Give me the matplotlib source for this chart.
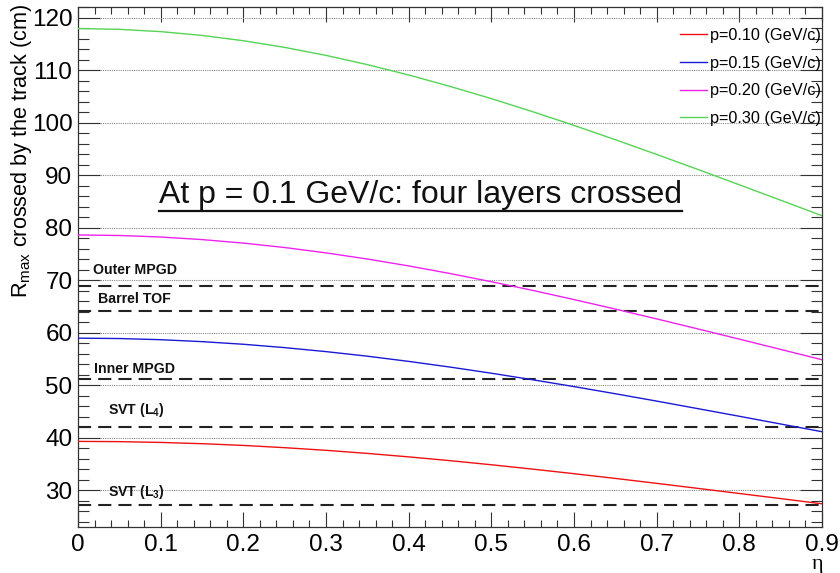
import matplotlib
matplotlib.use("Agg")
import matplotlib.pyplot as plt
from matplotlib.ticker import MultipleLocator, FormatStrFormatter
from matplotlib.lines import Line2D

plt.rcParams['font.family'] = ['Liberation Sans', 'DejaVu Sans']
plt.rcParams['mathtext.fontset'] = 'custom'
plt.rcParams['mathtext.rm'] = 'Liberation Sans'
plt.rcParams['mathtext.bf'] = 'Liberation Sans:bold'

# pseudorapidity samples
eta = [0.00, 0.05, 0.10, 0.15, 0.20, 0.25, 0.30, 0.35, 0.40, 0.45,
       0.50, 0.55, 0.60, 0.65, 0.70, 0.75, 0.80, 0.85, 0.90]

# maximum radius reached by the track (cm) for each momentum
r_p010 = [39.30, 39.25, 39.10, 38.86, 38.53, 38.10, 37.60, 37.01, 36.35, 35.63,
          34.85, 34.02, 33.15, 32.25, 31.31, 30.35, 29.38, 28.41, 27.42]
r_p015 = [58.95, 58.88, 58.66, 58.29, 57.79, 57.15, 56.39, 55.52, 54.53, 53.45,
          52.28, 51.03, 49.73, 48.37, 46.97, 45.53, 44.08, 42.61, 41.14]
r_p020 = [78.60, 78.50, 78.21, 77.72, 77.05, 76.21, 75.19, 74.02, 72.71, 71.26,
          69.70, 68.05, 66.30, 64.49, 62.62, 60.71, 58.77, 56.81, 54.85]
r_p030 = [117.90, 117.75, 117.31, 116.59, 115.58, 114.31, 112.79, 111.03, 109.06, 106.89,
          104.56, 102.07, 99.46, 96.74, 93.93, 91.07, 88.15, 85.22, 82.27]

series_labels = ["p=0.10 (GeV/c)", "p=0.15 (GeV/c)", "p=0.20 (GeV/c)", "p=0.30 (GeV/c)"]
series_colors = ["#ee1111", "#1a1ad6", "#ee22ee", "#55d455"]

# detector layer radii (cm)
layer_names = ["Outer MPGD", "Barrel TOF", "Inner MPGD",
               r"SVT (L$_{\mathbf{4}}$)", r"SVT (L$_{\mathbf{3}}$)"]
layer_radii = [68.9, 64.2, 51.1, 42.1, 27.2]

fig = plt.figure(figsize=(8.4, 5.73), dpi=100)
ax = fig.add_axes([78 / 840, 1 - 527 / 573, (822 - 78) / 840, (527 - 7) / 573])

for r in layer_radii:
    ax.axhline(r, color="#222222", lw=1.5, ls=(0, (6.3, 3.4)), zorder=2)

for ys, lab, col in zip([r_p010, r_p015, r_p020, r_p030], series_labels, series_colors):
    ax.plot(eta, ys, color=col, lw=1.0, label=lab, zorder=3)

ax.set_xlim(0, 0.9)
ax.set_ylim(23, 122)

ax.yaxis.grid(True, which="major", color="#888888", ls=(0, (1, 1)), lw=0.8)
ax.set_axisbelow(True)

ax.xaxis.set_major_locator(MultipleLocator(0.1))
ax.xaxis.set_minor_locator(MultipleLocator(0.02))
ax.yaxis.set_major_locator(MultipleLocator(10))
ax.yaxis.set_minor_locator(MultipleLocator(2))
ax.xaxis.set_major_formatter(FormatStrFormatter('%g'))

ax.tick_params(axis="both", which="both", direction="in", top=True, right=True,
               width=0.8, color="#333333", labelsize=17.5)
ax.tick_params(axis="y", which="major", length=15.5, pad=4)
ax.tick_params(axis="y", which="minor", length=7.8)
ax.tick_params(axis="x", which="major", length=11, pad=5)
ax.tick_params(axis="x", which="minor", length=5.2)
for s in ax.spines.values():
    s.set_linewidth(0.9)
    s.set_color("#333333")

# layer annotations
label_pos = [(0.0181, 72.0), (0.0242, 66.4), (0.0194, 53.1), (0.0363, 45.2), (0.0363, 29.6)]
for name, (lx, ly) in zip(layer_names, label_pos):
    ax.text(lx, ly, name, fontsize=10.2, fontweight="bold", ha="left", va="center",
            color="#111111", zorder=4)

title = ax.text(0.4142, 86.3, "At p = 0.1 GeV/c: four layers crossed", fontsize=23,
                ha="center", va="center", color="#111111", zorder=4)

leg = ax.legend(loc="upper right", bbox_to_anchor=(821 / 840, 1 - 28 / 573),
                bbox_transform=fig.transFigure, frameon=False, fontsize=11.7,
                handlelength=1.65, handletextpad=0.2, labelspacing=0.78,
                borderpad=0, borderaxespad=0)

fig.text(22 / 840, 1 - 4 / 573, r"R$_{\mathregular{max}}$ crossed by the track (cm)",
         rotation=90, ha="center", va="top", fontsize=15.6)
fig.text(818 / 840, 1 - 564 / 573, "η", family=["Liberation Serif", "DejaVu Serif"],
         ha="center", va="center", fontsize=16)

# underline the headline text
fig.canvas.draw()
bb = title.get_window_extent(renderer=fig.canvas.get_renderer())
uy = bb.y0 - 1
fig.add_artist(Line2D([bb.x0, bb.x1], [uy, uy], transform=None, color="#111111", lw=1.6))

fig.savefig("out.png", dpi=100)
